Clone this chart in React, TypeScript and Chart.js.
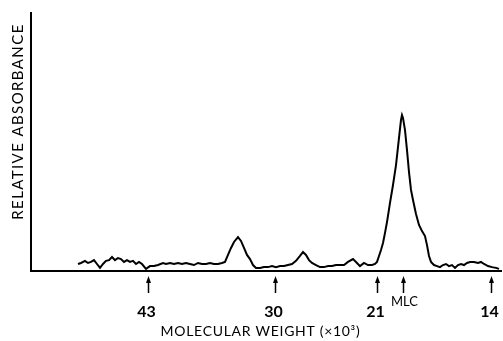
import React, { useEffect, useRef } from "react";
import { Chart, registerables } from "chart.js";

Chart.register(...registerables);

// migration position (arbitrary units) and relative absorbance
const positions = [
  9.4, 10.0, 10.8, 11.4, 12.0, 12.6, 13.2, 13.8, 14.4, 15.0, 15.6, 16.2, 16.8, 17.4, 18.0, 18.6, 19.2, 19.8, 20.4, 21.0,
  21.6, 22.2, 23.0, 23.8, 24.6, 25.4, 26.4, 27.0, 27.8, 28.6, 29.4, 30.2, 31.0, 31.8, 32.6, 33.4, 34.2, 35.0, 35.8, 36.6,
  37.4, 38.2, 38.8, 39.4, 40.0, 40.6, 41.4, 42.0, 42.6, 43.2, 43.8, 44.4, 45.0, 45.8, 46.6, 47.4, 48.2, 49.0, 49.8, 50.6,
  51.4, 52.2, 53.0, 53.8, 54.4, 55.0, 55.6, 56.2, 57.0, 57.8, 58.6, 59.4, 60.2, 61.0, 61.8, 62.6, 63.4, 64.4, 65.0, 65.8,
  66.6, 67.4, 68.2, 68.8, 69.2, 69.6, 70.0, 70.4, 70.8, 71.2, 71.8, 72.4, 73.0, 73.6, 74.0, 74.2, 74.4, 74.8, 75.2, 75.6,
  76.0, 76.4, 77.0, 77.6, 78.2, 78.8, 79.2, 79.6, 80.0, 80.6, 81.2, 81.8, 82.4, 83.0, 83.6, 84.2, 84.8, 85.4, 86.0, 86.6,
  87.2, 87.8, 88.6, 89.4, 90.0, 90.6, 91.4, 92.2, 93.0, 93.6,
];
const absorbance = [
  2.7, 3.1, 3.9, 3.1, 3.5, 4.2, 2.7, 1.2, 2.7, 3.9, 4.2, 5.4, 4.2, 5.0, 4.6, 3.5, 4.2, 3.5, 3.9, 2.7,
  3.5, 2.7, 0.8, 1.9, 1.9, 2.3, 3.1, 2.7, 3.1, 2.7, 3.1, 2.7, 3.1, 2.7, 2.3, 3.1, 2.7, 2.7, 3.1, 2.7,
  2.7, 3.1, 3.5, 6.2, 8.9, 11.2, 13.1, 11.6, 8.9, 6.2, 4.6, 2.3, 1.2, 1.2, 1.5, 1.5, 1.9, 1.5, 1.9, 1.9,
  2.3, 2.7, 3.9, 5.8, 7.3, 6.2, 4.2, 3.1, 2.3, 1.5, 1.5, 1.9, 1.9, 2.3, 2.3, 2.3, 3.5, 4.6, 3.5, 1.9,
  3.1, 2.3, 2.3, 2.7, 3.5, 5.8, 8.1, 10.8, 14.7, 18.9, 26.3, 33.2, 40.9, 51.4, 58.3, 60.2, 59.1, 54.4, 46.7, 38.2,
  31.3, 27.4, 22.0, 17.8, 15.4, 13.5, 10.0, 5.8, 3.5, 2.3, 1.9, 1.5, 2.3, 2.7, 1.9, 2.3, 1.2, 2.3, 2.7, 2.3,
  3.1, 3.5, 3.5, 3.1, 3.5, 2.7, 1.9, 1.5, 1.2, 0.8,
];

const markerPositions = [23.4, 48.8, 69.2, 74.4, 92.0];
const markerLabels = ["43", "30", "21", "MLC", "14"];

const xTitle = "MOLECULAR WEIGHT (×10³)";
const yTitle = "RELATIVE ABSORBANCE";

const FONT = "Lato, 'DejaVu Sans', sans-serif";

const annotations = {
  id: "annotations",
  beforeDatasetsDraw(chart: any) {
    const { ctx, chartArea } = chart;
    const { left, right, top, bottom } = chartArea;
    ctx.save();
    ctx.strokeStyle = "#000";
    ctx.lineWidth = 2;
    ctx.beginPath();
    ctx.moveTo(left, top);
    ctx.lineTo(left, bottom + 1);
    ctx.moveTo(left - 1, bottom);
    ctx.lineTo(right, bottom);
    ctx.stroke();
    ctx.restore();
  },
  afterDraw(chart: any) {
    const { ctx, chartArea } = chart;
    const { left, right, top, bottom } = chartArea;
    const xs = chart.scales.x;
    ctx.save();
    ctx.fillStyle = "#000";
    ctx.strokeStyle = "#000";
    markerPositions.forEach((pos, i) => {
      const px = Math.round(xs.getPixelForValue(pos)) + 0.5;
      ctx.lineWidth = 1.5;
      ctx.beginPath();
      ctx.moveTo(px, bottom + 10);
      ctx.lineTo(px, bottom + 22);
      ctx.stroke();
      ctx.beginPath();
      ctx.moveTo(px, bottom + 5);
      ctx.lineTo(px - 2.5, bottom + 12);
      ctx.lineTo(px + 2.5, bottom + 12);
      ctx.closePath();
      ctx.fill();
      const label = markerLabels[i];
      ctx.textAlign = "center";
      ctx.textBaseline = "middle";
      if (/^\d+$/.test(label)) {
        ctx.font = `bold 16px ${FONT}`;
        ctx.fillText(label, px - 2, bottom + 41);
      } else {
        ctx.font = `13px ${FONT}`;
        ctx.fillText(label, px + 1, bottom + 31);
      }
    });
    // x title
    ctx.font = `14px ${FONT}`;
    ctx.textAlign = "center";
    ctx.textBaseline = "middle";
    (ctx as any).letterSpacing = "0.7px";
    ctx.fillText(xTitle, (left + right) / 2 - 6, bottom + 60);
    // y title
    ctx.translate(18, (top + bottom) / 2 - 20);
    ctx.rotate(-Math.PI / 2);
    ctx.font = `15px ${FONT}`;
    (ctx as any).letterSpacing = "1.4px";
    ctx.fillText(yTitle, 0, 0);
    ctx.restore();
  },
};

export default function App() {
  const ref = useRef<HTMLCanvasElement | null>(null);
  useEffect(() => {
    if (!ref.current) return;
    const chart = new Chart(ref.current, {
      type: "scatter",
      data: {
        datasets: [
          {
            data: positions.map((x, i) => ({ x, y: absorbance[i] })),
            showLine: true,
            borderColor: "#000",
            borderWidth: 2,
            pointRadius: 0,
            tension: 0,
          },
        ],
      },
      options: {
        animation: false,
        responsive: false,
        devicePixelRatio: 1,
        layout: { padding: { left: 31, top: 12, right: 1, bottom: 70 } },
        plugins: { legend: { display: false }, tooltip: { enabled: false } },
        scales: {
          x: { type: "linear", min: 0, max: 94.2, display: false },
          y: { type: "linear", min: 0, max: 100, display: false },
        },
      },
      plugins: [annotations],
    });
    return () => chart.destroy();
  }, []);
  return (
    <div style={{ position: "fixed", left: 0, top: 0, width: 503, height: 341, background: "#fff" }}>
      <canvas ref={ref} width={503} height={341} style={{ width: 503, height: 341, display: "block" }} />
    </div>
  );
}
